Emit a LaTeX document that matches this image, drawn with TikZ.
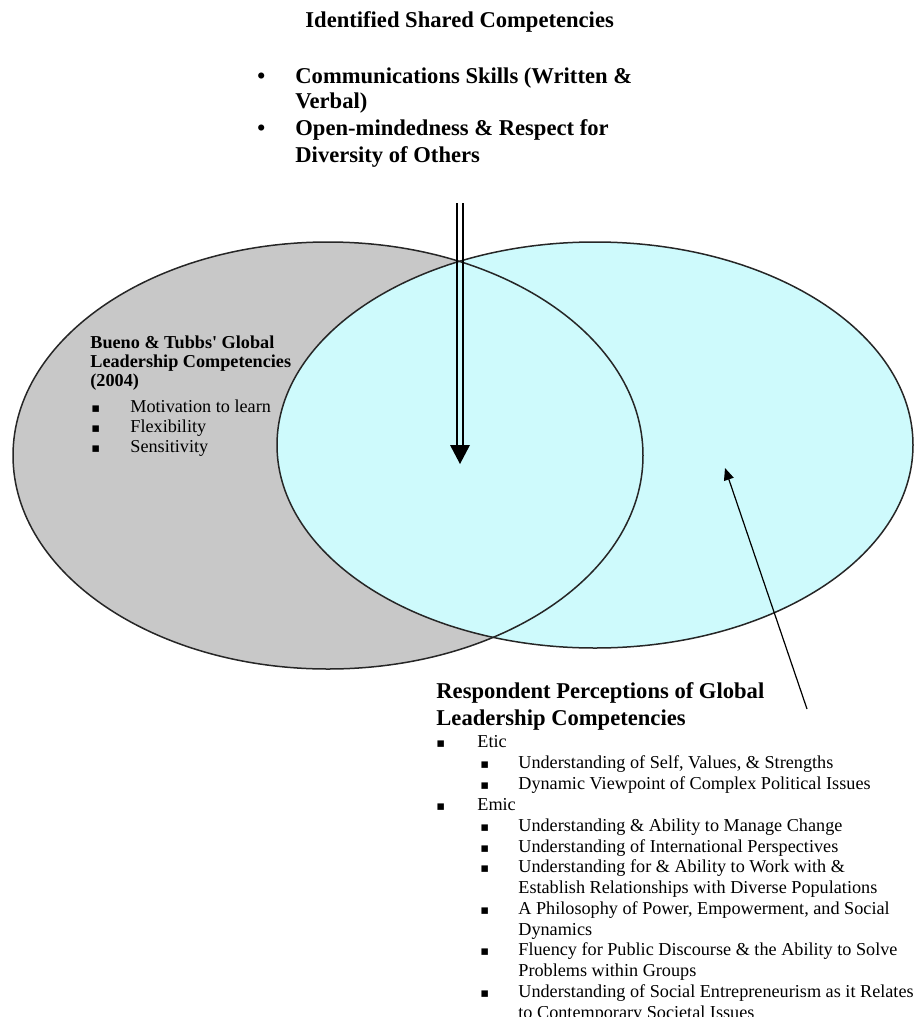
\documentclass[tikz,border=0pt]{standalone}
\usepackage{fontspec}
\setmainfont{Liberation Serif}
\newfontfamily\symfnt{DejaVu Sans}
\usetikzlibrary{arrows.meta, positioning}

\definecolor{bueno}{RGB}{200,200,200}
\definecolor{respond}{RGB}{206,250,252}

\tikzset{
  headtxt/.style={font=\fontsize{11.3}{13}\selectfont\bfseries, anchor=base west, inner sep=0pt},
  boxtitle/.style={font=\fontsize{9.1}{9.5}\selectfont\bfseries, anchor=base west, inner sep=0pt},
  itemtxt/.style={font=\fontsize{9.1}{10.4}\selectfont, anchor=base west, inner sep=0pt},
  sqbul/.style={font=\symfnt\fontsize{6.5}{7}\selectfont, anchor=base west, inner sep=0pt},
  rndbul/.style={font=\fontsize{11.3}{13}\selectfont\bfseries, anchor=base west, inner sep=0pt},
}

\begin{document}
\begin{tikzpicture}[x=0.5pt, y=-0.5pt]
\useasboundingbox (0,0) rectangle (914,1017);

% the two sets
\coordinate (bc) at (328,455.5);
\coordinate (rc) at (595,445);
\fill[bueno] (bc) ellipse [x radius=315, y radius=213.5];
\fill[respond] (rc) ellipse [x radius=318, y radius=203];
\draw[line width=0.75pt, black!85] (bc) ellipse [x radius=315, y radius=213.5];
\draw[line width=0.75pt, black!85] (rc) ellipse [x radius=318, y radius=203];

% shared competencies
\node[headtxt] (title) at (305,27) {Identified Shared Competencies};
\node[rndbul] (b1) at (257,83) {•};
\node[headtxt] (s1a) at (295,83) {Communications Skills (Written \&};
\node[headtxt] (s1b) at (295,108) {Verbal)};
\node[rndbul] (b2) at (257,135) {•};
\node[headtxt] (s2a) at (295,135) {Open-mindedness \& Respect for};
\node[headtxt] (s2b) at (295,162) {Diversity of Others};

% double arrow down into the overlap
\coordinate (shtop) at (460,203);
\coordinate (shbase) at (460,445);
\coordinate (shtip) at (460,464);
\draw[line width=0.6pt] ([xshift=-1.5pt]shtop) -- ([xshift=-1.5pt]shbase);
\draw[line width=0.6pt] ([xshift=1.5pt]shtop) -- ([xshift=1.5pt]shbase);
\fill (shtip) -- ([xshift=-5pt]shbase) -- ([xshift=5pt]shbase) -- cycle;

% Bueno & Tubbs
\node[boxtitle] (bt1) at (90,348) {Bueno \& Tubbs\textquotesingle{} Global};
\node[boxtitle] (bt2) at (90,367) {Leadership Competencies};
\node[boxtitle] (bt3) at (90,386) {(2004)};
\node[sqbul] at (91,412) {▪};
\node[itemtxt] (bi1) at (130,412) {Motivation to learn};
\node[sqbul] at (91,432) {▪};
\node[itemtxt] (bi2) at (130,432) {Flexibility};
\node[sqbul] at (91,452) {▪};
\node[itemtxt] (bi3) at (130,452) {Sensitivity};

% respondent perceptions
\node[headtxt] (rt1) at (436,698) {Respondent Perceptions of Global};
\node[headtxt] (rt2) at (436,725) {Leadership Competencies};
\node[sqbul] at (436,747) {▪};
\node[itemtxt] (etic) at (477,747) {Etic};
\node[sqbul] at (480,768) {▪};
\node[itemtxt] (e1) at (518,768) {Understanding of Self, Values, \& Strengths};
\node[sqbul] at (480,789) {▪};
\node[itemtxt] (e2) at (518,789) {Dynamic Viewpoint of Complex Political Issues};
\node[sqbul] at (436,810) {▪};
\node[itemtxt] (emic) at (477,810) {Emic};
\node[sqbul] at (480,831) {▪};
\node[itemtxt] (m1) at (518,831) {Understanding \& Ability to Manage Change};
\node[sqbul] at (480,852) {▪};
\node[itemtxt] (m2) at (518,852) {Understanding of International Perspectives};
\node[sqbul] at (480,872) {▪};
\node[itemtxt] (m3a) at (518,872) {Understanding for \& Ability to Work with \&};
\node[itemtxt] (m3b) at (518,893) {Establish Relationships with Diverse Populations};
\node[sqbul] at (480,914) {▪};
\node[itemtxt] (m4a) at (518,914) {A Philosophy of Power, Empowerment, and Social};
\node[itemtxt] (m4b) at (518,935) {Dynamics};
\node[sqbul] at (480,955) {▪};
\node[itemtxt] (m5a) at (518,955) {Fluency for Public Discourse \& the Ability to Solve};
\node[itemtxt] (m5b) at (518,976) {Problems within Groups};
\node[sqbul] at (480,997) {▪};
\node[itemtxt] (m6a) at (518,997) {Understanding of Social Entrepreneurism as it Relates};
\node[itemtxt] (m6b) at (518,1018) {to Contemporary Societal Issues};

% arrow from the respondent list
\coordinate (rpfoot) at (807,709);
\coordinate (rptip) at (725,468);
\draw[line width=0.6pt, -{Triangle[length=6pt,width=5pt]}] (rpfoot) -- (rptip);
\end{tikzpicture}
\end{document}
